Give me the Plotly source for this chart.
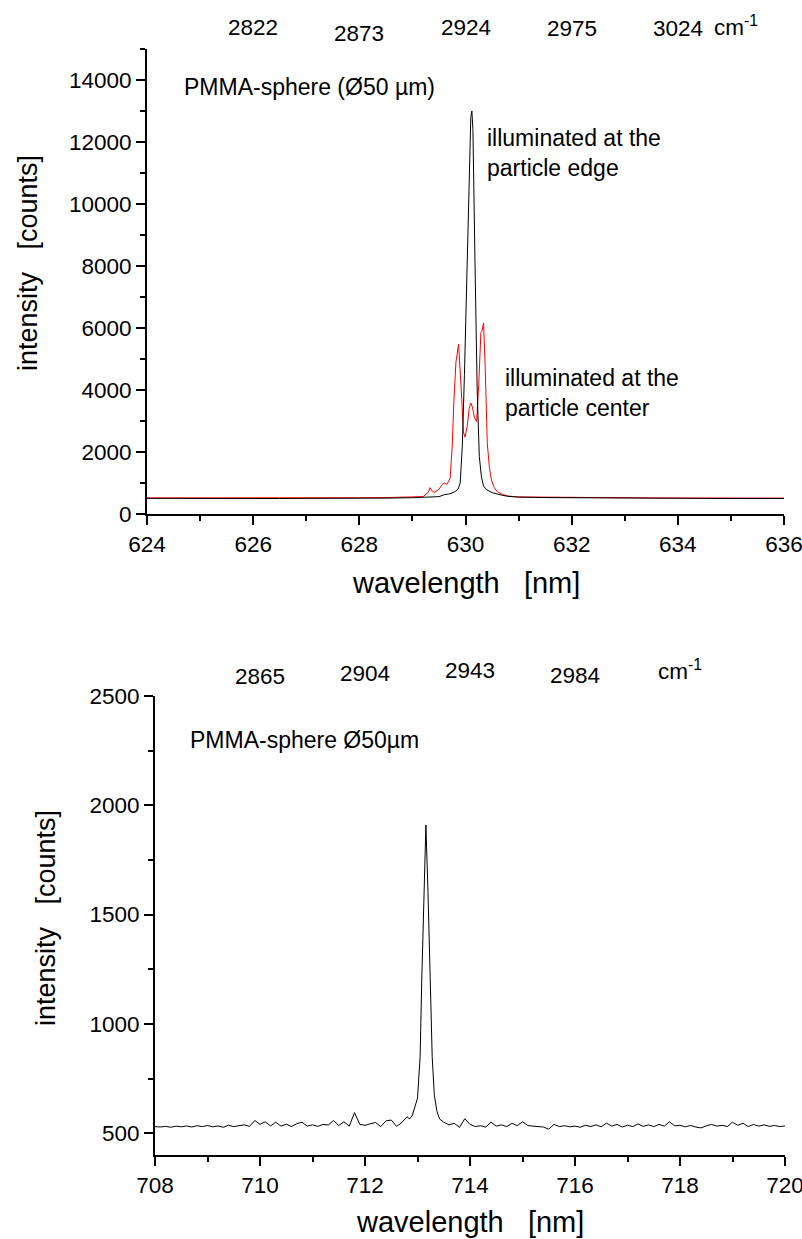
import numpy as np
import plotly.graph_objects as go

# ---------------- top panel data ----------------
edge_x = [624.0, 624.5, 625.0, 625.5, 626.0, 626.5, 627.0, 627.5, 628.0, 628.5, 629.0, 629.3,
          629.5, 629.6, 629.7, 629.8, 629.86, 629.9, 629.94, 629.98, 630.02, 630.06, 630.1, 630.12,
          630.14, 630.18, 630.22, 630.26, 630.3, 630.34, 630.4, 630.5, 630.6, 630.7, 630.8, 631.0,
          631.5, 632.0, 632.5, 633.0, 633.5, 634.0, 634.5, 635.0, 635.5, 636.0]
edge_y = [505, 500, 503, 498, 502, 500, 505, 502, 506, 512, 525, 545,
          560, 620, 650, 720, 800, 1000, 2200, 4500, 7500, 10500, 12800, 13000,
          12400, 8000, 4000, 1860, 1200, 900, 780, 690, 640, 600, 570, 545,
          530, 522, 518, 512, 510, 506, 504, 500, 502, 500]

center_x = [624.0, 624.5, 625.0, 625.5, 626.0, 626.5, 627.0, 627.5, 628.0, 628.5, 629.0, 629.2,
            629.3, 629.33, 629.38, 629.42, 629.5, 629.56, 629.6, 629.65, 629.71, 629.75, 629.78,
            629.82, 629.87, 629.9, 629.93, 629.96, 629.99, 630.03, 630.07, 630.1, 630.13, 630.17,
            630.21, 630.25, 630.29, 630.31, 630.34, 630.37, 630.41, 630.45, 630.49, 630.54, 630.6,
            630.7, 630.8, 631.0, 631.5, 632.0, 632.5, 633.0, 633.5, 634.0, 634.5, 635.0, 635.5, 636.0]
center_y = [520, 518, 522, 519, 523, 520, 524, 521, 526, 530, 535, 560,
            700, 850, 720, 700, 800, 950, 1000, 960, 1150, 2200, 3600,
            4900, 5480, 4700, 3700, 2650, 2480, 2800, 3400, 3580, 3450, 3100,
            2980, 4200, 5850, 5900, 6160, 4800, 2300, 1500, 1100, 850, 720,
            630, 580, 550, 540, 528, 524, 520, 518, 516, 515, 514, 513, 512]

# ---------------- bottom panel data ----------------
base_left_y = [530, 528, 531, 527, 532, 529, 533, 528, 534, 530,
               535, 529, 533, 527, 536, 530, 534, 538, 531, 558,
               540, 552, 533, 550, 532, 541, 530, 543, 550, 532,
               538, 531, 540, 537, 558, 535, 552, 532, 594, 540,
               536, 542, 549, 530, 556, 560, 531, 548, 575]
peak_x = [712.85, 712.9, 713.0, 713.05, 713.08, 713.12, 713.16, 713.2, 713.245, 713.28, 713.32, 713.37, 713.42]
peak_y = [565, 580, 660, 850, 1190, 1600, 1910, 1600, 1190, 850, 675, 600, 565]
base_right_y = [550, 538, 545, 526, 566,
                540, 530, 534, 528, 550, 532, 538, 530, 545, 534,
                552, 535, 532, 530, 528, 518, 540, 530, 534, 529,
                532, 527, 536, 530, 538, 529, 546, 532, 540, 528,
                536, 530, 542, 531, 538, 530, 540, 532, 552, 533,
                536, 529, 535, 528, 524, 533, 540, 532, 536, 530,
                550, 536, 545, 530, 540, 532, 538, 531, 535, 530,
                533]

top_wl = [626, 628, 630, 632, 634]
top_wn = ["2822", "2873", "2924", "2975", "3024"]
bot_wl = [710, 712, 714, 716]
bot_wn = ["2865", "2904", "2943", "2984"]

left_grid = np.round(np.linspace(708.0, 712.8, len(base_left_y)), 2)
right_grid = np.round(np.linspace(713.5, 720.0, len(base_right_y)), 2)
spec2_x = list(left_grid) + peak_x + list(right_grid)
spec2_y = base_left_y + peak_y + base_right_y

W, H = 802, 1239
FONT = "Arial, Liberation Sans, sans-serif"

def px(v):
    return v / W

def py(v):
    return 1 - v / H

# geometry (pixels)
T_L, T_R, T_T, T_B = 147, 784, 49, 514
B_L, B_R, B_T, B_B = 155, 785, 696, 1155

fig = go.Figure()
fig.add_trace(go.Scatter(x=center_x, y=center_y, mode="lines",
                         line=dict(color="#ff0000", width=1), xaxis="x", yaxis="y", showlegend=False))
fig.add_trace(go.Scatter(x=edge_x, y=edge_y, mode="lines",
                         line=dict(color="#000000", width=1), xaxis="x", yaxis="y", showlegend=False))
fig.add_trace(go.Scatter(x=spec2_x, y=spec2_y, mode="lines",
                         line=dict(color="#000000", width=1), xaxis="x2", yaxis="y2", showlegend=False))

tickfont = dict(family=FONT, size=22.5, color="black")
common = dict(showline=True, linewidth=2, linecolor="black", showgrid=False, zeroline=False,
              fixedrange=True, automargin=False, tickwidth=1.5, tickcolor="black")

def main_x(domain, anchor, rng):
    return dict(domain=domain, anchor=anchor, range=rng, dtick=2, tick0=0,
                ticks="outside", ticklen=9, tickformat="d", ticklabeloverflow="allow",
                minor=dict(dtick=1, tick0=0, ticks="outside", ticklen=5, tickwidth=1.5, tickcolor="black"),
                tickfont=tickfont, **common)

def mirror_x(over, anchor, rng):
    return dict(overlaying=over, anchor=anchor, side="top", range=rng, dtick=2, tick0=0,
                ticks="inside", ticklen=9,
                minor=dict(dtick=1, tick0=0, ticks="inside", ticklen=5, tickwidth=1.5, tickcolor="black"),
                showticklabels=False, **common)

def main_y(domain, anchor, rng, dt, mdt, t0):
    return dict(domain=domain, anchor=anchor, range=rng, dtick=dt, tick0=t0,
                ticks="outside", ticklen=9, tickformat="d", ticklabeloverflow="allow",
                minor=dict(dtick=mdt, tick0=t0, ticks="outside", ticklen=5, tickwidth=1.5, tickcolor="black"),
                tickfont=tickfont, **common)

def mirror_y(over, anchor, rng, dt, mdt, t0):
    return dict(overlaying=over, anchor=anchor, side="right", range=rng, dtick=dt, tick0=t0,
                ticks="inside", ticklen=9,
                minor=dict(dtick=mdt, tick0=t0, ticks="inside", ticklen=5, tickwidth=1.5, tickcolor="black"),
                showticklabels=False, **common)

fig.update_layout(
    width=W, height=H, margin=dict(l=0, r=0, t=0, b=0, autoexpand=False),
    paper_bgcolor="white", plot_bgcolor="white",
    font=dict(family=FONT, color="black"),
    xaxis=main_x([px(T_L), px(T_R)], "y", [624, 636]),
    yaxis=main_y([py(T_B), py(T_T)], "x", [0, 15000], 2000, 1000, 0),
    xaxis3=mirror_x("x", "y", [624, 636]),
    yaxis3=mirror_y("y", "x", [0, 15000], 2000, 1000, 0),
    xaxis2=main_x([px(B_L), px(B_R)], "y2", [708, 720]),
    yaxis2=main_y([py(B_B), py(B_T)], "x2", [400, 2500], 500, 250, 0),
    xaxis4=mirror_x("x2", "y2", [708, 720]),
    yaxis4=mirror_y("y2", "x2", [400, 2500], 500, 250, 0),
)

ann = []
xtitle_font = dict(family=FONT, size=29, color="black")
ytitle_font = dict(family=FONT, size=27, color="black")
txt_font = dict(family=FONT, size=23, color="black")
sp = "\u00a0\u00a0\u00a0"
# axis titles
ann.append(dict(text="wavelength" + sp + "[nm]", x=px((T_L + T_R) / 2), y=py(583), xref="paper", yref="paper",
                showarrow=False, font=xtitle_font, xanchor="center", yanchor="middle"))
ann.append(dict(text="wavelength" + sp + "[nm]", x=px((B_L + B_R) / 2), y=py(1222), xref="paper", yref="paper",
                showarrow=False, font=xtitle_font, xanchor="center", yanchor="middle"))
ann.append(dict(text="intensity" + sp + "[counts]", x=px(28), y=py(263), xref="paper", yref="paper",
                showarrow=False, font=ytitle_font, textangle=-90, xanchor="center", yanchor="middle"))
ann.append(dict(text="intensity" + sp + "[counts]", x=px(46), y=py(918), xref="paper", yref="paper",
                showarrow=False, font=ytitle_font, textangle=-90, xanchor="center", yanchor="middle"))
# top wavenumber labels
top_dy = [27, 34, 27, 28, 28]
for wl, lab, dy in zip(top_wl, top_wn, top_dy):
    ann.append(dict(text=lab, x=wl, y=py(dy), xref="x", yref="paper", showarrow=False,
                    font=tickfont, xanchor="center", yanchor="middle"))
ann.append(dict(text="cm<sup>-1</sup>", x=635.1, y=py(26), xref="x", yref="paper", showarrow=False,
                font=tickfont, xanchor="center", yanchor="middle"))
bot_dy = [676, 673, 670, 675]
for wl, lab, dy in zip(bot_wl, bot_wn, bot_dy):
    ann.append(dict(text=lab, x=wl, y=py(dy), xref="x2", yref="paper", showarrow=False,
                    font=tickfont, xanchor="center", yanchor="middle"))
ann.append(dict(text="cm<sup>-1</sup>", x=718, y=py(670), xref="x2", yref="paper", showarrow=False,
                font=tickfont, xanchor="center", yanchor="middle"))
# in-plot labels
ann.append(dict(text="PMMA-sphere (Ø50 µm)", x=px(182), y=py(87), xref="paper", yref="paper",
                showarrow=False, font=txt_font, xanchor="left", yanchor="middle"))
ann.append(dict(text="illuminated at the<br>particle edge", x=px(485), y=py(153), xref="paper", yref="paper",
                showarrow=False, font=txt_font, xanchor="left", yanchor="middle", align="left"))
ann.append(dict(text="illuminated at the<br>particle center", x=px(503), y=py(393), xref="paper", yref="paper",
                showarrow=False, font=txt_font, xanchor="left", yanchor="middle", align="left"))
ann.append(dict(text="PMMA-sphere Ø50µm", x=px(188), y=py(740), xref="paper", yref="paper",
                showarrow=False, font=txt_font, xanchor="left", yanchor="middle"))
fig.update_layout(annotations=ann)

fig.write_html("out.html", config={"displayModeBar": False},
               post_script="document.body.style.margin='0px';")
